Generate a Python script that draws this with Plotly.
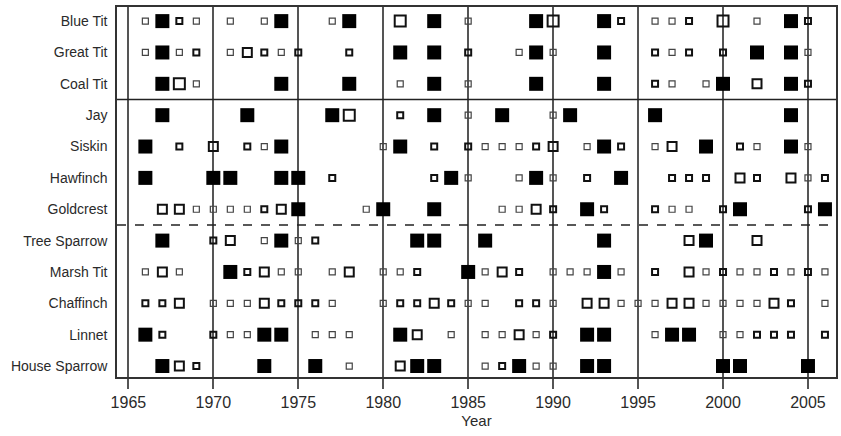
import plotly.graph_objects as go

# Species (top to bottom)
species = ["Blue Tit", "Great Tit", "Coal Tit", "Jay", "Siskin", "Hawfinch",
           "Goldcrest", "Tree Sparrow", "Marsh Tit", "Chaffinch", "Linnet",
           "House Sparrow"]

# codes: s = small open, t = small open (heavy), m = medium open, l = large open, f = filled
blue_tit = [(1966,'s'),(1967,'f'),(1968,'t'),(1969,'s'),(1971,'s'),(1973,'s'),(1974,'f'),
            (1977,'s'),(1978,'f'),(1981,'l'),(1983,'f'),(1985,'s'),(1989,'f'),(1990,'l'),
            (1993,'f'),(1994,'t'),(1996,'s'),(1997,'s'),(1998,'t'),(2000,'l'),(2002,'s'),
            (2004,'f'),(2005,'t')]
great_tit = [(1966,'s'),(1967,'f'),(1968,'s'),(1969,'t'),(1971,'s'),(1972,'m'),(1973,'t'),
             (1974,'s'),(1975,'t'),(1978,'t'),(1981,'f'),(1983,'f'),(1985,'t'),(1988,'s'),
             (1989,'f'),(1990,'s'),(1993,'f'),(1996,'t'),(1997,'s'),(1998,'t'),(2000,'t'),
             (2002,'f'),(2004,'f'),(2005,'s')]
coal_tit = [(1967,'f'),(1968,'l'),(1969,'s'),(1974,'f'),(1978,'f'),(1981,'s'),(1983,'f'),
            (1985,'s'),(1989,'f'),(1993,'f'),(1996,'t'),(1997,'s'),(1999,'s'),(2000,'f'),
            (2002,'m'),(2004,'f'),(2005,'t')]
jay = [(1967,'f'),(1972,'f'),(1977,'f'),(1978,'l'),(1981,'t'),(1983,'f'),(1985,'s'),
       (1987,'f'),(1990,'s'),(1991,'f'),(1996,'f'),(2004,'f')]
siskin = [(1966,'f'),(1968,'t'),(1970,'m'),(1972,'t'),(1973,'s'),(1974,'f'),(1980,'s'),
          (1981,'f'),(1983,'t'),(1985,'t'),(1986,'s'),(1987,'s'),(1988,'s'),(1989,'t'),
          (1990,'m'),(1992,'s'),(1993,'f'),(1994,'t'),(1996,'s'),(1997,'m'),(1999,'f'),
          (2001,'t'),(2002,'s'),(2004,'f'),(2005,'s')]
hawfinch = [(1966,'f'),(1970,'f'),(1971,'f'),(1974,'f'),(1975,'f'),(1977,'t'),(1983,'t'),
            (1984,'f'),(1985,'s'),(1988,'s'),(1989,'f'),(1990,'s'),(1992,'t'),(1994,'f'),
            (1997,'t'),(1998,'t'),(1999,'t'),(2001,'m'),(2002,'t'),(2004,'m'),(2005,'s'),
            (2006,'t')]
goldcrest = [(1967,'m'),(1968,'m'),(1969,'s'),(1970,'s'),(1971,'s'),(1972,'s'),(1973,'t'),
             (1974,'m'),(1975,'f'),(1979,'s'),(1980,'f'),(1983,'f'),(1987,'s'),(1988,'s'),
             (1989,'m'),(1990,'t'),(1992,'f'),(1993,'t'),(1996,'t'),(1997,'s'),(1998,'s'),
             (2000,'t'),(2001,'f'),(2005,'t'),(2006,'f')]
tree_sparrow = [(1967,'f'),(1970,'t'),(1971,'m'),(1973,'s'),(1974,'f'),(1975,'s'),(1976,'t'),
                (1982,'f'),(1983,'f'),(1986,'f'),(1993,'f'),(1998,'m'),(1999,'f'),(2002,'m')]
marsh_tit = [(1966,'s'),(1967,'m'),(1968,'s'),(1971,'f'),(1972,'t'),(1973,'m'),(1974,'s'),
             (1975,'s'),(1977,'s'),(1978,'m'),(1980,'s'),(1981,'s'),(1982,'t'),(1985,'f'),
             (1986,'s'),(1987,'m'),(1988,'t'),(1990,'s'),(1991,'s'),(1992,'s'),(1993,'f'),
             (1994,'s'),(1996,'t'),(1998,'m'),(1999,'s'),(2000,'t'),(2001,'s'),(2002,'s'),
             (2003,'t'),(2004,'s'),(2005,'t'),(2006,'s')]
chaffinch = [(1966,'t'),(1967,'t'),(1968,'m'),(1970,'s'),(1971,'s'),(1972,'s'),(1973,'m'),
             (1974,'t'),(1975,'t'),(1976,'t'),(1977,'s'),(1980,'s'),(1981,'t'),(1982,'t'),
             (1983,'m'),(1984,'t'),(1985,'s'),(1986,'s'),(1988,'t'),(1989,'t'),(1990,'s'),
             (1992,'m'),(1993,'m'),(1994,'s'),(1995,'s'),(1996,'s'),(1997,'m'),(1998,'m'),
             (1999,'s'),(2000,'s'),(2001,'s'),(2002,'s'),(2003,'m'),(2004,'t'),(2006,'s')]
linnet = [(1966,'f'),(1967,'t'),(1970,'t'),(1971,'s'),(1972,'s'),(1973,'f'),(1974,'f'),
          (1976,'s'),(1977,'s'),(1978,'s'),(1981,'f'),(1982,'m'),(1984,'s'),(1986,'s'),
          (1987,'s'),(1988,'m'),(1989,'s'),(1990,'t'),(1992,'f'),(1993,'f'),(1996,'s'),
          (1997,'f'),(1998,'f'),(2000,'s'),(2001,'s'),(2002,'t'),(2003,'t'),(2004,'t'),
          (2006,'t')]
house_sparrow = [(1967,'f'),(1968,'m'),(1969,'t'),(1973,'f'),(1976,'f'),(1978,'s'),(1981,'m'),
                 (1982,'f'),(1983,'f'),(1986,'s'),(1987,'t'),(1988,'f'),(1989,'s'),(1990,'s'),
                 (1992,'f'),(1993,'f'),(2000,'f'),(2001,'f'),(2005,'f')]

rows = [blue_tit, great_tit, coal_tit, jay, siskin, hawfinch, goldcrest,
        tree_sparrow, marsh_tit, chaffinch, linnet, house_sparrow]

year_ticks = [1965, 1970, 1975, 1980, 1985, 1990, 1995, 2000, 2005]

styles = {
    's': dict(symbol='square-open', size=6, color='#444', line=dict(width=1.2, color='#444')),
    't': dict(symbol='square-open', size=6, color='#111', line=dict(width=2, color='#111')),
    'm': dict(symbol='square-open', size=9, color='#111', line=dict(width=2, color='#111')),
    'l': dict(symbol='square-open', size=11, color='#111', line=dict(width=2, color='#111')),
    'f': dict(symbol='square', size=14, color='black', line=dict(width=0)),
}

fig = go.Figure()
for code, st in styles.items():
    xs, ys = [], []
    for i, row in enumerate(rows):
        for yr, c in row:
            if c == code:
                xs.append(yr)
                ys.append(i)
    fig.add_trace(go.Scatter(x=xs, y=ys, mode='markers', marker=st,
                             showlegend=False, hoverinfo='x+y'))

fig.add_shape(type='line', xref='paper', x0=0, x1=1, y0=2.5, y1=2.5,
              line=dict(color='#222', width=1.5))
fig.add_shape(type='line', xref='paper', x0=0, x1=1, y0=6.5, y1=6.5,
              line=dict(color='#222', width=1.5, dash='dash'))

fig.update_layout(
    width=841, height=436,
    margin=dict(l=117, r=5, t=7, b=59),
    paper_bgcolor='white', plot_bgcolor='white',
    font=dict(family='Liberation Sans, Arial, sans-serif', color='#2a2a2a'),
    xaxis=dict(
        range=[1964.33, 2006.65], tickvals=year_ticks, ticktext=[str(v) for v in year_ticks],
        showgrid=True, gridcolor='#555', gridwidth=1.5, zeroline=False,
        ticks='outside', ticklen=10, tickwidth=1.5, tickcolor='#555',
        showline=True, linecolor='#333', linewidth=1.5, mirror=True,
        tickfont=dict(size=16), title=dict(text='Year', font=dict(size=15), standoff=6),
        automargin=False,
    ),
    yaxis=dict(
        range=[11.35, -0.45], tickvals=list(range(len(species))), ticktext=species,
        showgrid=False, zeroline=False, ticks='',
        showline=True, linecolor='#333', linewidth=1.5, mirror=True,
        tickfont=dict(size=14), ticklabelstandoff=5, automargin=False,
    ),
)

fig.write_html("out.html", config={'displayModeBar': False},
               post_script="document.body.style.margin='0px';")
